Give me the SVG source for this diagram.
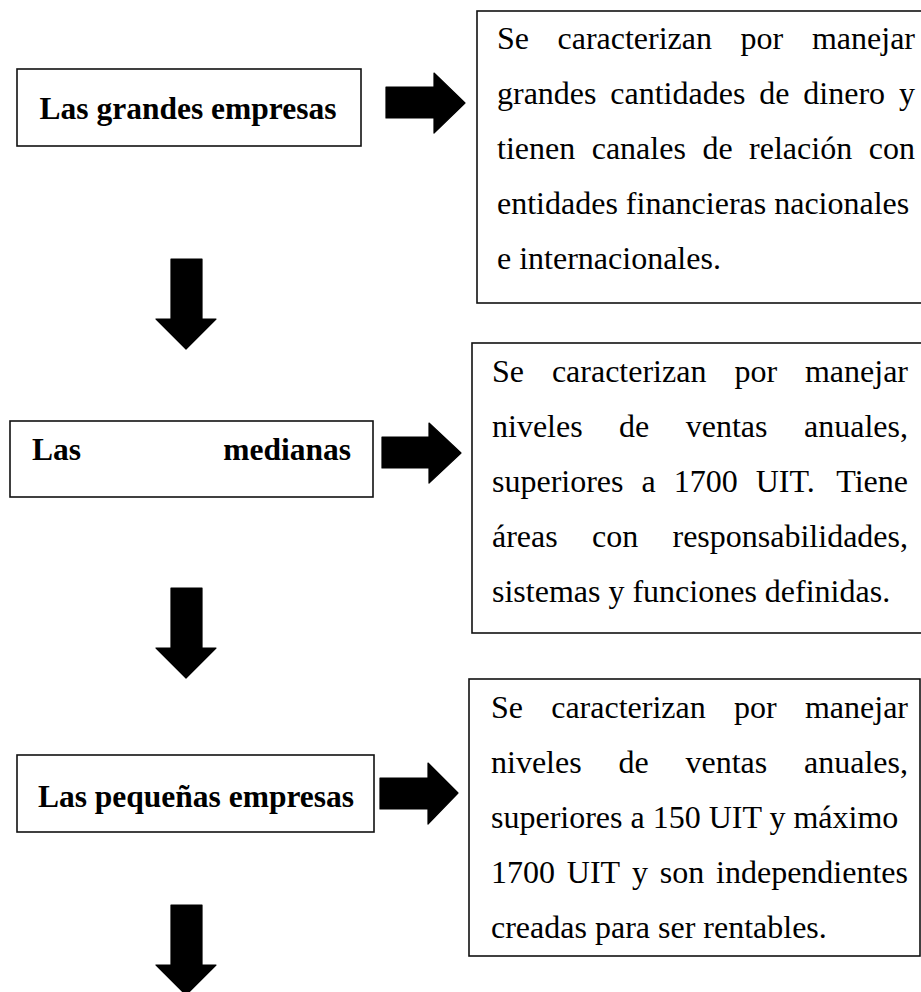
<svg xmlns="http://www.w3.org/2000/svg" width="921" height="992" viewBox="0 0 921 992">
<style>
.box{fill:#fff;stroke:#111;stroke-width:1.6}
.lbl{font-family:"Liberation Serif","Times New Roman",serif;font-size:31.5px;font-weight:bold;fill:#000}
.txt{font-family:"Liberation Serif","Times New Roman",serif;font-size:32px;fill:#000}
.arr{fill:#000;stroke:#000;stroke-width:1.2;stroke-linejoin:round}
</style>
<rect width="921" height="992" fill="#fff"/>
<g id="node-grandes">
<rect class="box" x="17" y="69" width="344" height="77"/>
<text class="lbl" x="188" y="119" text-anchor="middle">Las grandes empresas</text>
</g>
<g id="node-medianas">
<rect class="box" x="10" y="421" width="363" height="76"/>
<text class="lbl" x="32" y="460">Las</text>
<text class="lbl" x="351" y="460" text-anchor="end">medianas</text>
</g>
<g id="node-pequenas">
<rect class="box" x="17" y="755" width="357" height="77"/>
<text class="lbl" x="196" y="807" text-anchor="middle">Las pequeñas empresas</text>
</g>
<g id="desc-grandes">
<rect class="box" x="477" y="11" width="460" height="292"/>
<text class="txt" y="49"><tspan x="497">Se</tspan><tspan x="557.5">caracterizan</tspan><tspan x="740.6">por</tspan><tspan x="915" text-anchor="end">manejar</tspan></text>
<text class="txt" y="104"><tspan x="497">grandes</tspan><tspan x="610.3">cantidades</tspan><tspan x="759.3">de</tspan><tspan x="803.3">dinero</tspan><tspan x="915" text-anchor="end">y</tspan></text>
<text class="txt" y="159"><tspan x="497">tienen</tspan><tspan x="591.7">canales</tspan><tspan x="702.4">de</tspan><tspan x="749.1">relación</tspan><tspan x="915" text-anchor="end">con</tspan></text>
<text class="txt" x="497" y="214">entidades financieras nacionales</text>
<text class="txt" x="497" y="269">e internacionales.</text>
</g>
<g id="desc-medianas">
<rect class="box" x="472" y="343" width="465" height="290"/>
<text class="txt" y="382"><tspan x="492">Se</tspan><tspan x="551.9">caracterizan</tspan><tspan x="734.4">por</tspan><tspan x="908" text-anchor="end">manejar</tspan></text>
<text class="txt" y="437"><tspan x="492">niveles</tspan><tspan x="619.1">de</tspan><tspan x="685.7">ventas</tspan><tspan x="908" text-anchor="end">anuales,</tspan></text>
<text class="txt" y="492"><tspan x="492">superiores</tspan><tspan x="641.5">a</tspan><tspan x="673.7">1700</tspan><tspan x="755.7">UIT.</tspan><tspan x="908" text-anchor="end">Tiene</tspan></text>
<text class="txt" y="547"><tspan x="492">áreas</tspan><tspan x="592">con</tspan><tspan x="908" text-anchor="end">responsabilidades,</tspan></text>
<text class="txt" x="492" y="602">sistemas y funciones definidas.</text>
</g>
<g id="desc-pequenas">
<rect class="box" x="469" y="679" width="451" height="277"/>
<text class="txt" y="718"><tspan x="491">Se</tspan><tspan x="551.2">caracterizan</tspan><tspan x="734">por</tspan><tspan x="908" text-anchor="end">manejar</tspan></text>
<text class="txt" y="773"><tspan x="491">niveles</tspan><tspan x="618.5">de</tspan><tspan x="685.5">ventas</tspan><tspan x="908" text-anchor="end">anuales,</tspan></text>
<text class="txt" x="491" y="828">superiores a 150 UIT y máximo</text>
<text class="txt" y="883"><tspan x="491">1700</tspan><tspan x="566.8">UIT</tspan><tspan x="631.9">y</tspan><tspan x="659.7">son</tspan><tspan x="908" text-anchor="end">independientes</tspan></text>
<text class="txt" x="491" y="938">creadas para ser rentables.</text>
</g>
<g id="connectors">
<polygon class="arr" points="386,87 434,87 434,73 465,103 434,133 434,118 386,118"/>
<polygon class="arr" points="382,437 429,437 429,423 461,453 429,483 429,468 382,468"/>
<polygon class="arr" points="380,778 428,778 428,763 458,793 428,824 428,809 380,809"/>
<polygon class="arr" points="171,259 202,259 202,319 216,319 186,349 156,319 171,319"/>
<polygon class="arr" points="171,588 202,588 202,648 216,648 186,678 156,648 171,648"/>
<polygon class="arr" points="171,905 202,905 202,965 216,965 186,995 156,965 171,965"/>
</g>
</svg>
